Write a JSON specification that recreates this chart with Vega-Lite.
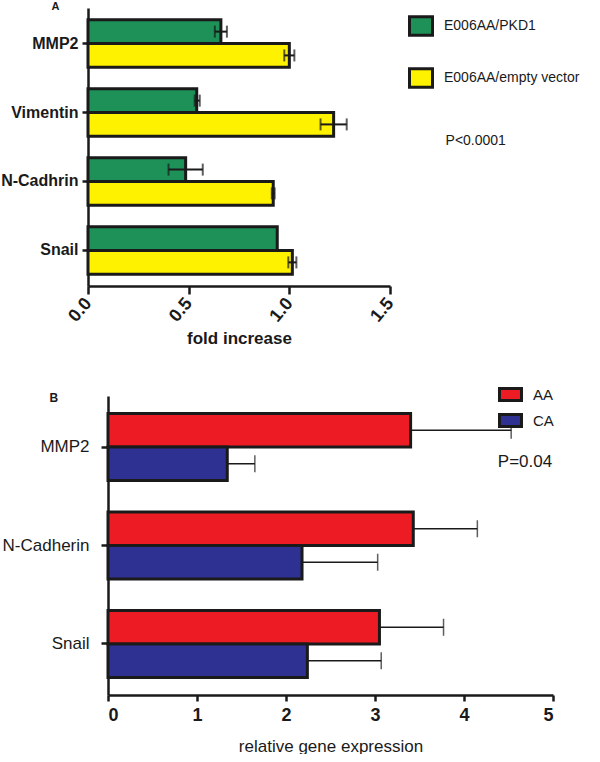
{
  "$schema": "https://vega.github.io/schema/vega-lite/v6.json",
  "padding": {"left": 0, "top": 0, "right": 0, "bottom": 0},
  "background": "white",
  "spacing": 38,
  "config": {
    "view": {"stroke": null},
    "font": "Liberation Sans",
    "axis": {"domainColor": "#1a1a1a", "tickColor": "#1a1a1a", "labelColor": "#1a1a1a", "titleColor": "#1a1a1a", "grid": false}
  },
  "resolve": {"scale": {"color": "independent", "x": "independent", "y": "independent", "yOffset": "independent"}, "axis": {"x": "independent", "y": "independent"}, "legend": {"color": "independent"}},
  "vconcat": [
    {
      "width": 282,
      "height": 278,
      "data": {"values": [
        {"gene": "MMP2", "group": "E006AA/PKD1", "value": 0.66, "lo": 0.63, "hi": 0.69},
        {"gene": "MMP2", "group": "E006AA/empty vector", "value": 1.0, "lo": 0.975, "hi": 1.025},
        {"gene": "Vimentin", "group": "E006AA/PKD1", "value": 0.54, "lo": 0.53, "hi": 0.555},
        {"gene": "Vimentin", "group": "E006AA/empty vector", "value": 1.22, "lo": 1.155, "hi": 1.285},
        {"gene": "N-Cadhrin", "group": "E006AA/PKD1", "value": 0.485, "lo": 0.4, "hi": 0.57},
        {"gene": "N-Cadhrin", "group": "E006AA/empty vector", "value": 0.92, "lo": 0.913, "hi": 0.927},
        {"gene": "Snail", "group": "E006AA/PKD1", "value": 0.94, "lo": null, "hi": null},
        {"gene": "Snail", "group": "E006AA/empty vector", "value": 1.015, "lo": 0.995, "hi": 1.035}
      ]},
      "encoding": {
        "y": {"field": "gene", "type": "nominal", "sort": ["MMP2", "Vimentin", "N-Cadhrin", "Snail"],
          "scale": {"paddingInner": 0.31, "paddingOuter": 0.17},
          "axis": {"offset": 20, "title": "A", "titleAngle": 0, "titleX": -37, "titleY": -8, "titleAlign": "left", "titleBaseline": "top", "titleFontSize": 11, "titleFontWeight": "bold", "titleFont": "Liberation Sans",
            "labelFont": "Liberation Sans", "labelFontWeight": "bold", "labelFontSize": 16, "labelPadding": 4, "tickSize": 6, "tickWidth": 2.5, "domainWidth": 2.5}},
        "yOffset": {"field": "group", "type": "nominal", "sort": ["E006AA/PKD1", "E006AA/empty vector"], "scale": {"paddingInner": 0, "paddingOuter": 0}}
      },
      "layer": [
        {
          "mark": {"type": "bar", "stroke": "#1a1a1a", "strokeWidth": 3},
          "encoding": {
            "x": {"field": "value", "type": "quantitative", "scale": {"domain": [0, 1.5], "nice": false, "range": [-20, 282]},
              "axis": {"title": "fold increase", "values": [0, 0.5, 1, 1.5], "format": ".1f", "labelAngle": -50, "labelAlign": "right", "labelBaseline": "middle",
                "labelFont": "Liberation Sans", "labelFontWeight": "bold", "labelFontSize": 18, "labelPadding": 6,
                "titleFont": "Liberation Sans", "titleFontWeight": "bold", "titleFontSize": 17, "titlePadding": 6,
                "tickSize": 8, "tickWidth": 2.5, "domainWidth": 2.5}},
            "color": {"field": "group", "type": "nominal", "scale": {"domain": ["E006AA/PKD1", "E006AA/empty vector"], "range": ["#1e9159", "#fff200"]},
              "legend": {"title": null, "orient": "none", "legendX": 300, "legendY": 5, "symbolType": "M-1,-0.8H1V0.8H-1Z", "symbolSize": 529, "symbolStrokeColor": "#1a1a1a", "symbolStrokeWidth": 3, "symbolOpacity": 1,
                "labelFont": "Liberation Sans", "labelFontSize": 14, "labelColor": "#1a1a1a", "labelOffset": 10, "rowPadding": 20, "labelLimit": 300}}
          }
        },
        {
          "mark": {"type": "rule", "color": "#1a1a1a", "strokeWidth": 2},
          "encoding": {"x": {"field": "lo", "type": "quantitative"}, "x2": {"field": "hi"}}
        },
        {
          "mark": {"type": "tick", "color": "#1a1a1a", "thickness": 2, "size": 12},
          "encoding": {"x": {"field": "lo", "type": "quantitative"}}
        },
        {
          "mark": {"type": "tick", "color": "#1a1a1a", "thickness": 2, "size": 12},
          "encoding": {"x": {"field": "hi", "type": "quantitative"}}
        },
        {
          "data": {"values": [{"note": "P<0.0001"}]},
          "mark": {"type": "text", "align": "left", "baseline": "middle", "font": "Liberation Sans", "fontSize": 14, "color": "#1a1a1a", "dy": 28},
          "encoding": {"x": {"datum": 1.776}, "y": {"datum": "Vimentin"}, "yOffset": null, "text": {"field": "note"}}
        }
      ]
    },
    {
      "width": 445,
      "height": 299,
      "data": {"values": [
        {"gene": "MMP2", "group": "AA", "value": 3.4, "hi": 4.53},
        {"gene": "MMP2", "group": "CA", "value": 1.34, "hi": 1.65},
        {"gene": "N-Cadherin", "group": "AA", "value": 3.43, "hi": 4.15},
        {"gene": "N-Cadherin", "group": "CA", "value": 2.18, "hi": 3.03},
        {"gene": "Snail", "group": "AA", "value": 3.05, "hi": 3.77},
        {"gene": "Snail", "group": "CA", "value": 2.24, "hi": 3.07}
      ]},
      "encoding": {
        "y": {"field": "gene", "type": "nominal", "sort": ["MMP2", "N-Cadherin", "Snail"],
          "scale": {"paddingInner": 0.32, "paddingOuter": 0.178},
          "axis": {"title": "B", "titleAngle": 0, "titleX": -59, "titleY": -4, "titleAlign": "left", "titleBaseline": "top", "titleFontSize": 12, "titleFontWeight": "bold", "titleFont": "Liberation Sans",
            "labelFont": "Liberation Sans", "labelFontSize": 17, "labelPadding": 12, "tickSize": 7, "tickWidth": 2.5, "domainWidth": 2.5}},
        "yOffset": {"field": "group", "type": "nominal", "sort": ["AA", "CA"], "scale": {"paddingInner": 0, "paddingOuter": 0}}
      },
      "layer": [
        {
          "mark": {"type": "rule", "color": "#1a1a1a", "strokeWidth": 1.5},
          "encoding": {"x": {"field": "value", "type": "quantitative"}, "x2": {"field": "hi"}}
        },
        {
          "mark": {"type": "tick", "color": "#1a1a1a", "thickness": 1.5, "size": 17},
          "encoding": {"x": {"field": "hi", "type": "quantitative"}}
        },
        {
          "mark": {"type": "bar", "stroke": "#1a1a1a", "strokeWidth": 3},
          "encoding": {
            "x": {"field": "value", "type": "quantitative", "scale": {"domain": [0, 5], "nice": false},
              "axis": {"title": "relative gene expression", "values": [0, 1, 2, 3, 4, 5], "format": "d", "labelAngle": 0,
                "labelFont": "Liberation Sans", "labelFontWeight": "bold", "labelFontSize": 18, "labelPadding": 5,
                "titleFont": "Liberation Sans", "titleFontWeight": "normal", "titleFontSize": 17, "titlePadding": 14,
                "tickSize": 6, "tickWidth": 2.5, "domainWidth": 2.5}},
            "color": {"field": "group", "type": "nominal", "scale": {"domain": ["AA", "CA"], "range": ["#ed1c24", "#2e3192"]},
              "legend": {"title": null, "orient": "none", "legendX": 393, "legendY": -11, "symbolType": "M-1.4,-0.77H1.4V0.77H-1.4Z", "symbolSize": 247, "symbolStrokeColor": "#1a1a1a", "symbolStrokeWidth": 3, "symbolOpacity": 1,
                "labelFont": "Liberation Sans", "labelFontSize": 15, "labelColor": "#1a1a1a", "labelOffset": 13, "rowPadding": 1}}
          }
        },
        {
          "data": {"values": [{"note": "P=0.04"}]},
          "mark": {"type": "text", "align": "left", "baseline": "middle", "font": "Liberation Sans", "fontSize": 17, "color": "#1a1a1a", "dy": 15},
          "encoding": {"x": {"datum": 4.38}, "y": {"datum": "MMP2"}, "yOffset": null, "text": {"field": "note"}}
        }
      ]
    }
  ]
}
